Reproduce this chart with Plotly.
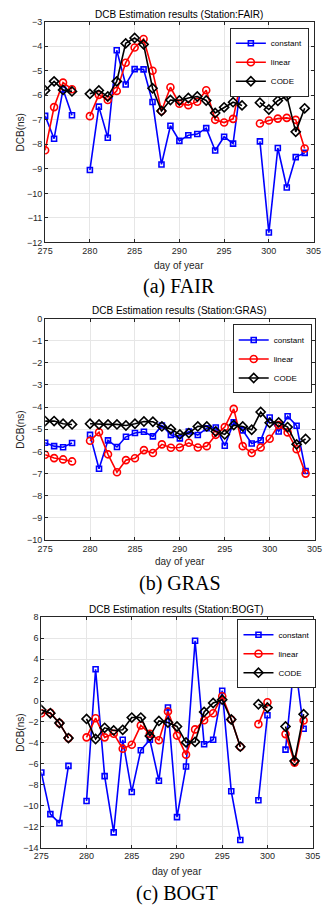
import plotly.graph_objects as go

days = list(range(275, 305))  # 275..304

def fill(d):
    return [d.get(x) for x in days]

# ---------- FAIR ----------
fair_const = fill({275:-6.84,276:-7.77,277:-5.76,278:-6.81,280:-9.05,281:-6.46,282:-7.73,283:-4.16,284:-5.56,
                   285:-4.93,286:-4.94,287:-6.27,288:-8.82,289:-7.24,290:-7.86,291:-7.63,292:-7.58,293:-7.34,
                   294:-8.25,295:-7.69,296:-7.97,297:-5.21,299:-7.88,300:-11.6,301:-8.15,302:-9.76,303:-8.52,304:-8.35})
fair_lin = fill({275:-8.24,276:-6.48,277:-5.48,278:-5.75,280:-6.85,281:-5.98,282:-6.19,283:-5.82,284:-4.67,
                 285:-4.05,286:-3.70,287:-5.0,288:-6.64,289:-5.67,290:-6.34,291:-6.40,292:-6.26,293:-5.79,
                 294:-7.0,295:-7.11,296:-6.96,297:-5.21,299:-7.15,300:-7.03,301:-6.95,302:-6.92,303:-7.0,304:-8.17})
fair_code = fill({275:-5.8,276:-5.43,277:-5.78,278:-5.84,280:-5.94,281:-5.80,282:-6.05,283:-5.43,284:-3.88,
                  285:-3.66,286:-3.92,287:-5.71,288:-6.64,289:-6.19,290:-6.21,291:-6.11,292:-6.05,293:-6.21,
                  294:-6.72,295:-6.49,296:-6.28,297:-6.41,299:-6.30,300:-6.58,301:-6.22,302:-6.03,303:-7.49,304:-6.53})

# ---------- GRAS ----------
gras_const = fill({275:-5.61,276:-5.76,277:-5.81,278:-5.62,280:-5.25,281:-6.78,282:-5.50,283:-5.80,284:-5.34,
                   285:-5.17,286:-5.11,287:-5.32,288:-4.83,289:-5.25,290:-5.41,291:-5.10,292:-5.26,293:-4.95,
                   294:-4.92,295:-5.74,296:-4.69,297:-5.05,298:-5.64,299:-5.50,300:-4.47,301:-5.10,302:-4.41,
                   303:-4.84,304:-6.88})
gras_lin = fill({275:-6.15,276:-6.30,277:-6.36,278:-6.45,280:-5.52,281:-5.13,282:-6.13,283:-6.94,284:-6.39,
                 285:-6.31,286:-5.94,287:-6.07,288:-5.68,289:-5.83,290:-5.82,291:-5.61,292:-5.82,293:-5.76,
                 294:-5.25,295:-4.90,296:-4.08,297:-5.76,298:-6.07,299:-5.82,300:-5.43,301:-4.81,302:-5.14,
                 303:-5.90,304:-7.0})
gras_code = fill({275:-4.63,276:-4.63,277:-4.75,278:-4.78,280:-4.75,281:-4.78,282:-4.78,283:-4.78,284:-4.83,
                  285:-4.75,286:-4.65,287:-4.66,288:-4.87,289:-4.99,290:-5.23,291:-5.17,292:-4.87,293:-4.87,
                  294:-5.10,295:-5.23,296:-4.81,297:-4.87,298:-5.02,299:-4.22,300:-4.71,301:-4.69,302:-4.90,
                  303:-5.68,304:-5.44})

# ---------- BOGT ----------
bogt_const = fill({275:-6.82,276:-10.8,277:-11.66,278:-6.19,280:-9.54,281:3.03,282:-7.17,283:-12.54,284:-3.70,
                   285:-8.68,286:-4.70,287:-3.70,288:-7.61,289:-0.62,290:-11.09,291:-6.25,292:5.75,293:-4.13,
                   294:-3.70,295:0.98,296:-8.62,297:-13.27,299:-9.48,300:-1.36,302:-4.64,303:3.98,304:-2.65})
bogt_lin = fill({275:-1.17,276:-1.12,277:-2.11,278:-3.54,280:-3.47,281:-1.64,282:-3.47,283:-3.12,284:-4.55,
                 285:-4.17,286:-2.33,287:-3.12,288:-3.75,289:-1.0,290:-3.30,291:-5.12,292:-2.71,293:-1.83,
                 294:-1.17,295:0.45,296:-1.77,297:-4.36,299:-2.21,300:-0.12,302:-3.16,303:-5.88,304:-1.86})
bogt_code = fill({275:-0.85,276:-1.17,277:-2.11,278:-3.54,280:-1.71,281:-3.63,282:-2.56,283:-2.81,284:-2.75,
                  285:-1.58,286:-1.58,287:-3.35,288:-1.90,289:-2.05,290:-2.43,291:-3.95,292:-3.90,293:-1.04,
                  294:-0.19,295:0.13,296:-1.77,297:-4.36,299:-0.31,300:-0.63,302:-2.43,303:-5.72,304:-1.26})

x_ticks = [275, 280, 285, 290, 295, 300, 305]
stations = ["FAIR", "GRAS", "BOGT"]
captions = ["(a) FAIR", "(b) GRAS", "(c) BOGT"]
series_names = ["constant", "linear", "CODE"]

W, H = 334, 912
panels = [
    dict(data=[fair_const, fair_lin, fair_code], yr=[-12, -3], dt=1, px=(39, 321), py=(17, 240),
         title_y=10, xlab_y=263, cap_y=285, leg=(316, 23)),
    dict(data=[gras_const, gras_lin, gras_code], yr=[-10, 0], dt=1, px=(39, 322), py=(317, 541),
         title_y=309, xlab_y=563, cap_y=585, leg=(319, 323)),
    dict(data=[bogt_const, bogt_lin, bogt_code], yr=[-14, 8], dt=2, px=(35, 320), py=(619, 852),
         title_y=611, xlab_y=876, cap_y=898, leg=(324, 621)),
]

styles = [
    dict(color="#0000FF", symbol="square-open", size=5),
    dict(color="#FF0000", symbol="circle-open", size=7),
    dict(color="#000000", symbol="diamond-open", size=7),
]

fig = go.Figure()
annotations = []
layout = {}
sans = "Liberation Sans, Arial"
tickfont = dict(family=sans, size=9, color="#262626")

for i, p in enumerate(panels):
    sfx = "" if i == 0 else str(i + 1)
    xa, ya = "x" + sfx, "y" + sfx
    leg = "legend" + sfx
    for j, vals in enumerate(p["data"]):
        st = styles[j]
        fig.add_trace(go.Scatter(
            x=days, y=vals, mode="lines+markers", name=series_names[j],
            xaxis=xa, yaxis=ya, legend=leg, connectgaps=False,
            line=dict(color=st["color"], width=1.6),
            marker=dict(symbol=st["symbol"], size=st["size"], color=st["color"],
                        line=dict(color=st["color"], width=1.6)),
        ))
    x0, x1 = p["px"]
    y0, y1 = p["py"]
    layout["xaxis" + sfx] = dict(
        domain=[x0 / W, x1 / W], anchor=ya, range=[275, 305], tickvals=x_ticks,
        showgrid=True, gridcolor="#e6e6e6", gridwidth=1, zeroline=False,
        showline=True, linecolor="#262626", linewidth=1, mirror="ticks",
        ticks="inside", ticklen=3, tickcolor="#262626", tickfont=tickfont,
    )
    layout["yaxis" + sfx] = dict(
        domain=[1 - y1 / H, 1 - y0 / H], anchor=xa, range=p["yr"], dtick=p["dt"],
        tick0=0, showgrid=True, gridcolor="#e6e6e6", gridwidth=1, zeroline=False,
        showline=True, linecolor="#262626", linewidth=1, mirror="ticks",
        ticks="inside", ticklen=3, tickcolor="#262626", tickfont=tickfont,
    )
    lx, ly = p["leg"]
    layout[leg] = dict(
        x=lx / W, y=1 - ly / H, xanchor="right", yanchor="top", xref="paper", yref="paper",
        bgcolor="white", bordercolor="#262626", borderwidth=1,
        font=dict(family=sans, size=8, color="#000000"),
        tracegroupgap=0, itemwidth=30,
    )
    cx = (x0 + x1) / 2 / W
    annotations.append(dict(text="DCB Estimation results (Station:%s)" % stations[i],
                            x=cx, y=1 - p["title_y"] / H, xref="paper", yref="paper",
                            showarrow=False, xanchor="center", yanchor="middle",
                            font=dict(family=sans, size=10, color="#000000")))
    annotations.append(dict(text="day of year", x=cx, y=1 - p["xlab_y"] / H, xref="paper", yref="paper",
                            showarrow=False, xanchor="center", yanchor="middle",
                            font=dict(family=sans, size=10, color="#262626")))
    annotations.append(dict(text="DCB(ns)", x=13 / W, y=1 - (y0 + y1) / 2 / H, xref="paper", yref="paper",
                            showarrow=False, xanchor="center", yanchor="middle", textangle=-90,
                            font=dict(family=sans, size=10, color="#262626")))
    annotations.append(dict(text=captions[i], x=cx, y=1 - p["cap_y"] / H, xref="paper", yref="paper",
                            showarrow=False, xanchor="center", yanchor="middle",
                            font=dict(family="Liberation Serif, Times New Roman", size=20, color="#000000")))

fig.update_layout(
    width=W, height=H, margin=dict(l=0, r=0, t=0, b=0),
    paper_bgcolor="white", plot_bgcolor="white",
    showlegend=True, annotations=annotations, **layout,
)
fig.write_html("out.html", config={"displayModeBar": False})
